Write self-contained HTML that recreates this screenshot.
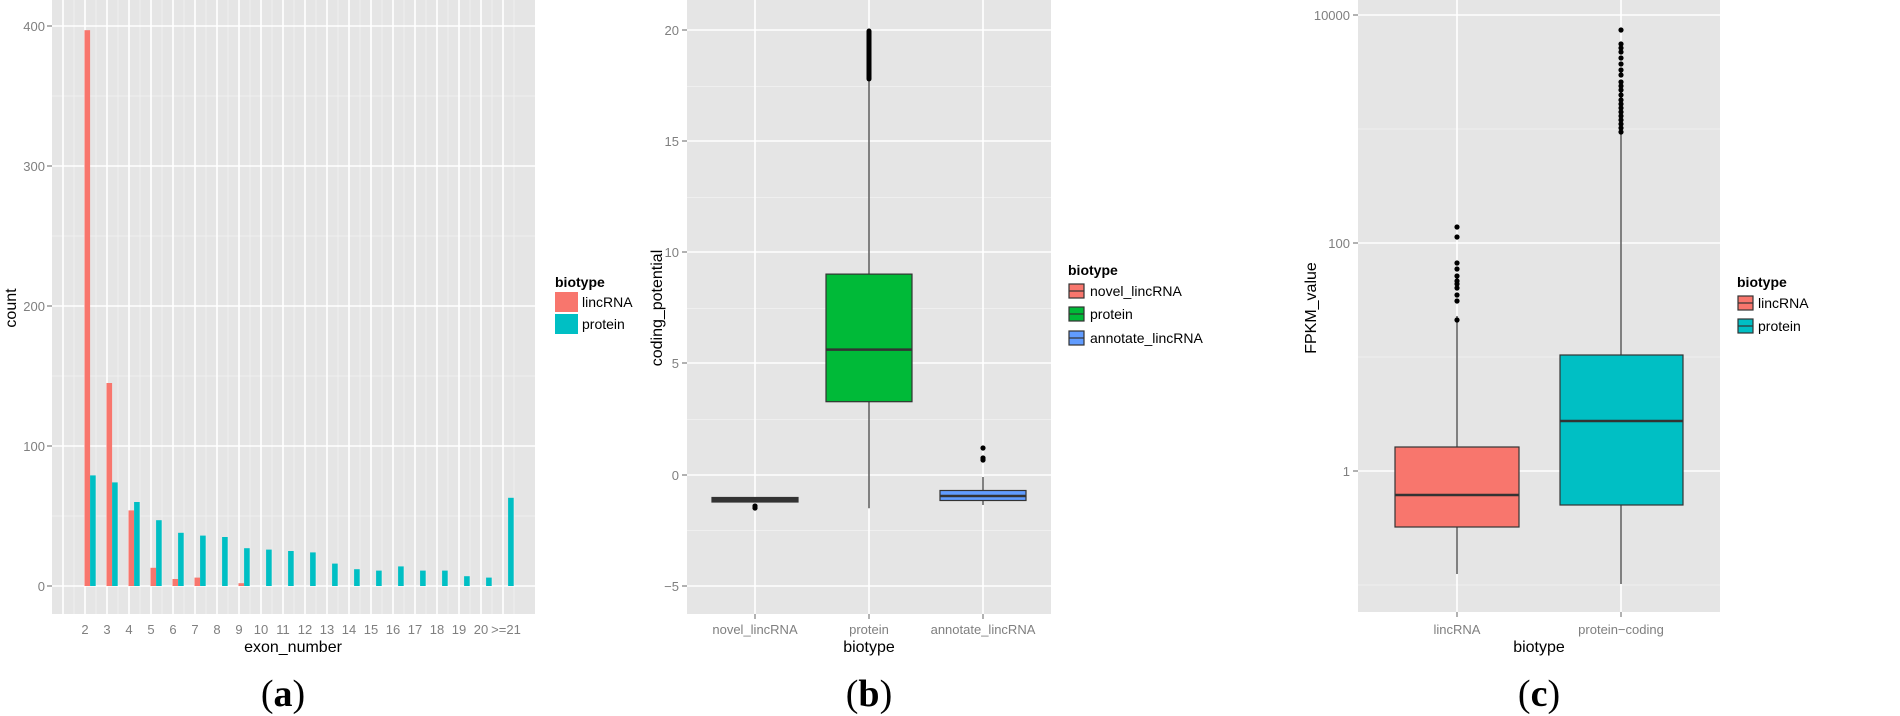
<!DOCTYPE html>
<html><head><meta charset="utf-8"><style>
html,body{margin:0;padding:0;background:#fff;}
svg{display:block;font-family:"Liberation Sans",sans-serif;}
.tk{fill:#7f7f7f;font-size:13px;}
.ti{fill:#000;font-size:16px;}
.lg{fill:#000;font-size:14px;}
.lt{fill:#000;font-size:14px;font-weight:bold;}
.cap{font-family:"Liberation Serif",serif;font-size:38px;}
.mj{stroke:#fff;stroke-width:1.6;}
.mn{stroke:#f2f2f2;stroke-width:0.8;}
.ax{stroke:#7f7f7f;stroke-width:1.2;}
</style></head><body>
<svg width="1900" height="716" viewBox="0 0 1900 716">
<!-- Panel a -->
<rect x="52" y="0" width="483" height="614" fill="#e5e5e5"/>
<g class="mn">
<line x1="52" x2="535" y1="516" y2="516"/><line x1="52" x2="535" y1="376" y2="376"/><line x1="52" x2="535" y1="236" y2="236"/><line x1="52" x2="535" y1="96" y2="96"/>
<line x1="74" x2="74" y1="0" y2="614"/><line x1="96" x2="96" y1="0" y2="614"/><line x1="118" x2="118" y1="0" y2="614"/><line x1="140" x2="140" y1="0" y2="614"/><line x1="162" x2="162" y1="0" y2="614"/><line x1="184" x2="184" y1="0" y2="614"/><line x1="206" x2="206" y1="0" y2="614"/><line x1="228" x2="228" y1="0" y2="614"/><line x1="250" x2="250" y1="0" y2="614"/><line x1="272" x2="272" y1="0" y2="614"/><line x1="294" x2="294" y1="0" y2="614"/><line x1="316" x2="316" y1="0" y2="614"/><line x1="338" x2="338" y1="0" y2="614"/><line x1="360" x2="360" y1="0" y2="614"/><line x1="382" x2="382" y1="0" y2="614"/><line x1="404" x2="404" y1="0" y2="614"/><line x1="426" x2="426" y1="0" y2="614"/><line x1="448" x2="448" y1="0" y2="614"/><line x1="470" x2="470" y1="0" y2="614"/><line x1="492" x2="492" y1="0" y2="614"/><line x1="514" x2="514" y1="0" y2="614"/>
</g>
<g class="mj">
<line x1="52" x2="535" y1="586" y2="586"/><line x1="52" x2="535" y1="446" y2="446"/><line x1="52" x2="535" y1="306" y2="306"/><line x1="52" x2="535" y1="166" y2="166"/><line x1="52" x2="535" y1="26" y2="26"/>
<line x1="63" x2="63" y1="0" y2="614"/><line x1="85" x2="85" y1="0" y2="614"/><line x1="107" x2="107" y1="0" y2="614"/><line x1="129" x2="129" y1="0" y2="614"/><line x1="151" x2="151" y1="0" y2="614"/><line x1="173" x2="173" y1="0" y2="614"/><line x1="195" x2="195" y1="0" y2="614"/><line x1="217" x2="217" y1="0" y2="614"/><line x1="239" x2="239" y1="0" y2="614"/><line x1="261" x2="261" y1="0" y2="614"/><line x1="283" x2="283" y1="0" y2="614"/><line x1="305" x2="305" y1="0" y2="614"/><line x1="327" x2="327" y1="0" y2="614"/><line x1="349" x2="349" y1="0" y2="614"/><line x1="371" x2="371" y1="0" y2="614"/><line x1="393" x2="393" y1="0" y2="614"/><line x1="415" x2="415" y1="0" y2="614"/><line x1="437" x2="437" y1="0" y2="614"/><line x1="459" x2="459" y1="0" y2="614"/><line x1="481" x2="481" y1="0" y2="614"/><line x1="503" x2="503" y1="0" y2="614"/>
</g>
<g fill="#f8766d">
<rect x="84.5" y="30.2" width="5.6" height="555.8"/><rect x="106.5" y="383" width="5.6" height="203"/><rect x="128.5" y="510.4" width="5.6" height="75.6"/><rect x="150.5" y="567.8" width="5.6" height="18.2"/><rect x="172.5" y="579" width="5.6" height="7"/><rect x="194.5" y="577.6" width="5.6" height="8.4"/><rect x="238.5" y="583.2" width="5.6" height="2.8"/>
</g>
<g fill="#00bfc4">
<rect x="90.1" y="475.4" width="5.6" height="110.6"/><rect x="112.1" y="482.4" width="5.6" height="103.6"/><rect x="134.1" y="502" width="5.6" height="84"/><rect x="156.1" y="520.2" width="5.6" height="65.8"/><rect x="178.1" y="532.8" width="5.6" height="53.2"/><rect x="200.1" y="535.6" width="5.6" height="50.4"/><rect x="222.1" y="537" width="5.6" height="49"/><rect x="244.1" y="548.2" width="5.6" height="37.8"/><rect x="266.1" y="549.6" width="5.6" height="36.4"/><rect x="288.1" y="551" width="5.6" height="35"/><rect x="310.1" y="552.4" width="5.6" height="33.6"/><rect x="332.1" y="563.6" width="5.6" height="22.4"/><rect x="354.1" y="569.2" width="5.6" height="16.8"/><rect x="376.1" y="570.6" width="5.6" height="15.4"/><rect x="398.1" y="566.4" width="5.6" height="19.6"/><rect x="420.1" y="570.6" width="5.6" height="15.4"/><rect x="442.1" y="570.6" width="5.6" height="15.4"/><rect x="464.1" y="576.2" width="5.6" height="9.8"/><rect x="486.1" y="577.6" width="5.6" height="8.4"/><rect x="508.1" y="497.8" width="5.6" height="88.2"/>
</g>
<g class="ax"><line x1="47" x2="52" y1="586" y2="586"/><line x1="47" x2="52" y1="446" y2="446"/><line x1="47" x2="52" y1="306" y2="306"/><line x1="47" x2="52" y1="166" y2="166"/><line x1="47" x2="52" y1="26" y2="26"/></g>
<g class="tk" text-anchor="end"><text x="45" y="591">0</text><text x="45" y="451">100</text><text x="45" y="311">200</text><text x="45" y="171">300</text><text x="45" y="31">400</text></g>
<g class="tk" text-anchor="middle">
<text x="85" y="634">2</text><text x="107" y="634">3</text><text x="129" y="634">4</text><text x="151" y="634">5</text><text x="173" y="634">6</text><text x="195" y="634">7</text><text x="217" y="634">8</text><text x="239" y="634">9</text><text x="261" y="634">10</text><text x="283" y="634">11</text><text x="305" y="634">12</text><text x="327" y="634">13</text><text x="349" y="634">14</text><text x="371" y="634">15</text><text x="393" y="634">16</text><text x="415" y="634">17</text><text x="437" y="634">18</text><text x="459" y="634">19</text><text x="481" y="634">20</text><text x="506" y="634">&gt;=21</text>
</g>
<text class="ti" x="293" y="652" text-anchor="middle">exon_number</text>
<text class="ti" x="16" y="308" text-anchor="middle" transform="rotate(-90 16 308)">count</text>
<text class="lt" x="555" y="287">biotype</text>
<rect x="555" y="292" width="23" height="20" fill="#f8766d"/><rect x="555" y="314" width="23" height="20" fill="#00bfc4"/>
<text class="lg" x="582" y="307">lincRNA</text><text class="lg" x="582" y="329">protein</text>
<text class="cap" x="283" y="706" text-anchor="middle">(<tspan font-weight="bold">a</tspan>)</text>

<!-- Panel b -->
<rect x="687" y="0" width="364" height="614" fill="#e5e5e5"/>
<g class="mn"><line x1="687" x2="1051" y1="86.5" y2="86.5"/><line x1="687" x2="1051" y1="197.5" y2="197.5"/><line x1="687" x2="1051" y1="308.5" y2="308.5"/><line x1="687" x2="1051" y1="419.5" y2="419.5"/><line x1="687" x2="1051" y1="530.5" y2="530.5"/></g>
<g class="mj"><line x1="687" x2="1051" y1="30" y2="30"/><line x1="687" x2="1051" y1="141" y2="141"/><line x1="687" x2="1051" y1="252" y2="252"/><line x1="687" x2="1051" y1="363" y2="363"/><line x1="687" x2="1051" y1="475" y2="475"/><line x1="687" x2="1051" y1="586" y2="586"/>
<line x1="755" x2="755" y1="0" y2="614"/><line x1="869" x2="869" y1="0" y2="614"/><line x1="983" x2="983" y1="0" y2="614"/></g>
<g stroke="#333" stroke-width="1.2">
<line x1="869" x2="869" y1="79.8" y2="508.3"/>
<rect x="826" y="274.1" width="86" height="127.6" fill="#00ba38"/>
<line x1="826" x2="912" y1="349.6" y2="349.6" stroke-width="2.5"/>
<rect x="712" y="497.5" width="86" height="4.5" fill="#333"/>
<line x1="983" x2="983" y1="477" y2="505"/>
<rect x="940" y="490.5" width="86" height="10" fill="#619cff"/>
<line x1="940" x2="1026" y1="496" y2="496" stroke-width="2.5"/>
</g>
<line x1="869" x2="869" y1="31" y2="79" stroke="#000" stroke-width="5" stroke-linecap="round"/>
<g fill="#000"><circle cx="755" cy="508" r="2.6"/><circle cx="755" cy="506" r="2.6"/><circle cx="983" cy="448" r="2.6"/><circle cx="983" cy="458" r="2.6"/><circle cx="983" cy="460" r="2.6"/></g>
<g class="ax"><line x1="682" x2="687" y1="30" y2="30"/><line x1="682" x2="687" y1="141" y2="141"/><line x1="682" x2="687" y1="252" y2="252"/><line x1="682" x2="687" y1="363" y2="363"/><line x1="682" x2="687" y1="475" y2="475"/><line x1="682" x2="687" y1="586" y2="586"/><line x1="755" x2="755" y1="614" y2="619"/><line x1="869" x2="869" y1="614" y2="619"/><line x1="983" x2="983" y1="614" y2="619"/></g>
<g class="tk" text-anchor="end"><text x="679" y="35">20</text><text x="679" y="146">15</text><text x="679" y="257">10</text><text x="679" y="368">5</text><text x="679" y="480">0</text><text x="679" y="591">−5</text></g>
<g class="tk" text-anchor="middle"><text x="755" y="634">novel_lincRNA</text><text x="869" y="634">protein</text><text x="983" y="634">annotate_lincRNA</text></g>
<text class="ti" x="869" y="652" text-anchor="middle">biotype</text>
<text class="ti" x="662" y="308" text-anchor="middle" transform="rotate(-90 662 308)">coding_potential</text>
<text class="lt" x="1068" y="275">biotype</text>
<g stroke="#333" stroke-width="1.2"><rect x="1069" y="284" width="15" height="14" fill="#f8766d"/><rect x="1069" y="307" width="15" height="14" fill="#00ba38"/><rect x="1069" y="331" width="15" height="14" fill="#619cff"/>
<line x1="1069" x2="1084" y1="291" y2="291"/><line x1="1069" x2="1084" y1="314" y2="314"/><line x1="1069" x2="1084" y1="338" y2="338"/></g>
<text class="lg" x="1090" y="296">novel_lincRNA</text><text class="lg" x="1090" y="319">protein</text><text class="lg" x="1090" y="343">annotate_lincRNA</text>
<text class="cap" x="869" y="706" text-anchor="middle">(<tspan font-weight="bold">b</tspan>)</text>

<!-- Panel c -->
<rect x="1358" y="0" width="362" height="612" fill="#e5e5e5"/>
<g class="mn"><line x1="1358" x2="1720" y1="129" y2="129"/><line x1="1358" x2="1720" y1="357" y2="357"/><line x1="1358" x2="1720" y1="585" y2="585"/></g>
<g class="mj"><line x1="1358" x2="1720" y1="15" y2="15"/><line x1="1358" x2="1720" y1="243" y2="243"/><line x1="1358" x2="1720" y1="471" y2="471"/>
<line x1="1457" x2="1457" y1="0" y2="612"/><line x1="1621" x2="1621" y1="0" y2="612"/></g>
<g stroke="#333" stroke-width="1.2">
<line x1="1457" x2="1457" y1="316" y2="574"/>
<rect x="1395" y="447" width="124" height="80" fill="#f8766d"/>
<line x1="1395" x2="1519" y1="495" y2="495" stroke-width="2.5"/>
<line x1="1621" x2="1621" y1="132" y2="584"/>
<rect x="1560" y="355" width="123" height="150" fill="#00bfc4"/>
<line x1="1560" x2="1683" y1="421" y2="421" stroke-width="2.5"/>
</g>
<g fill="#000">
<circle cx="1457" cy="227" r="2.6"/><circle cx="1457" cy="237" r="2.6"/><circle cx="1457" cy="263" r="2.6"/><circle cx="1457" cy="269" r="2.6"/><circle cx="1457" cy="276" r="2.6"/><circle cx="1457" cy="281" r="2.6"/><circle cx="1457" cy="284" r="2.6"/><circle cx="1457" cy="288" r="2.6"/><circle cx="1457" cy="295" r="2.6"/><circle cx="1457" cy="301" r="2.6"/><circle cx="1457" cy="320" r="2.6"/>
<circle cx="1621" cy="30" r="2.6"/><circle cx="1621" cy="44" r="2.6"/><circle cx="1621" cy="48" r="2.6"/><circle cx="1621" cy="52" r="2.6"/><circle cx="1621" cy="58" r="2.6"/><circle cx="1621" cy="64" r="2.6"/><circle cx="1621" cy="70" r="2.6"/><circle cx="1621" cy="75" r="2.6"/><circle cx="1621" cy="82" r="2.6"/><circle cx="1621" cy="86" r="2.6"/><circle cx="1621" cy="90" r="2.6"/><circle cx="1621" cy="95" r="2.6"/><circle cx="1621" cy="100" r="2.6"/><circle cx="1621" cy="104" r="2.6"/><circle cx="1621" cy="108" r="2.6"/><circle cx="1621" cy="112" r="2.6"/><circle cx="1621" cy="116" r="2.6"/><circle cx="1621" cy="120" r="2.6"/><circle cx="1621" cy="124" r="2.6"/><circle cx="1621" cy="128" r="2.6"/><circle cx="1621" cy="132" r="2.6"/>
</g>
<g class="ax"><line x1="1353" x2="1358" y1="15" y2="15"/><line x1="1353" x2="1358" y1="243" y2="243"/><line x1="1353" x2="1358" y1="471" y2="471"/><line x1="1457" x2="1457" y1="612" y2="617"/><line x1="1621" x2="1621" y1="612" y2="617"/></g>
<g class="tk" text-anchor="end"><text x="1350" y="20">10000</text><text x="1350" y="248">100</text><text x="1350" y="476">1</text></g>
<g class="tk" text-anchor="middle"><text x="1457" y="634">lincRNA</text><text x="1621" y="634">protein−coding</text></g>
<text class="ti" x="1539" y="652" text-anchor="middle">biotype</text>
<text class="ti" x="1316" y="308" text-anchor="middle" transform="rotate(-90 1316 308)">FPKM_value</text>
<text class="lt" x="1737" y="287">biotype</text>
<g stroke="#333" stroke-width="1.2"><rect x="1738" y="296" width="15" height="14" fill="#f8766d"/><rect x="1738" y="319" width="15" height="14" fill="#00bfc4"/>
<line x1="1738" x2="1753" y1="303" y2="303"/><line x1="1738" x2="1753" y1="326" y2="326"/></g>
<text class="lg" x="1758" y="308">lincRNA</text><text class="lg" x="1758" y="331">protein</text>
<text class="cap" x="1539" y="706" text-anchor="middle">(<tspan font-weight="bold">c</tspan>)</text>
</svg>
</body></html>
